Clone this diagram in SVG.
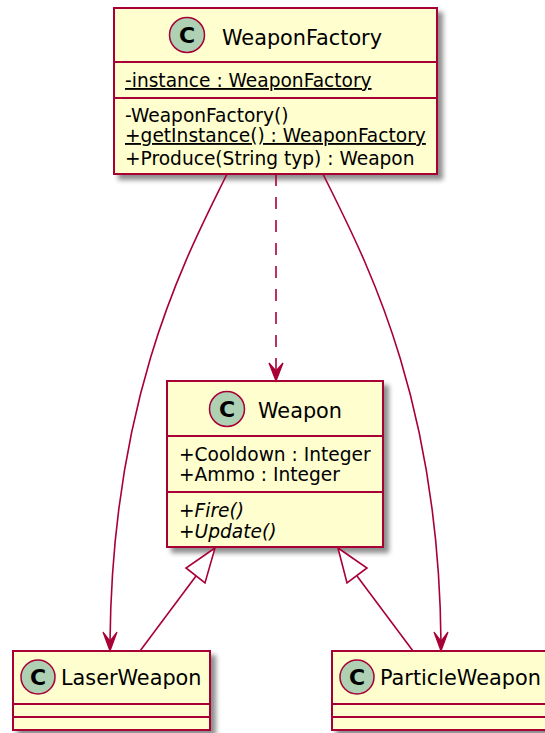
<svg xmlns="http://www.w3.org/2000/svg" width="545" height="733" viewBox="0 0 545 733">
  <defs>
    <filter id="shadow" x="-10%" y="-10%" width="130%" height="130%">
      <feGaussianBlur in="SourceAlpha" stdDeviation="2.5"/>
      <feOffset dx="5" dy="5" result="off"/>
      <feComponentTransfer><feFuncA type="linear" slope="0.45"/></feComponentTransfer>
      <feMerge><feMergeNode/><feMergeNode in="SourceGraphic"/></feMerge>
    </filter>
  </defs>
  <style>
    .box { fill: #FEFECE; stroke: #A80036; stroke-width: 2; }
    .sep { stroke: #A80036; stroke-width: 2; }
    .spot { fill: #ADD1B2; stroke: #A80036; stroke-width: 1.5; }
    .spotc { font-family: "DejaVu Sans", sans-serif; font-weight: bold; font-size: 22px; fill: #000; text-anchor: middle; }
    .name { font-family: "DejaVu Sans", sans-serif; font-size: 20.8px; fill: #000; }
    .mem { font-family: "DejaVu Sans", sans-serif; font-size: 18.6px; fill: #000; }
    .static { text-decoration: underline; }
    .abstract { font-style: italic; }
    .edge { fill: none; stroke: #A80036; stroke-width: 1.6; }
    .dashed { stroke-dasharray: 12 11; }
    .head { fill: #A80036; stroke: #A80036; stroke-width: 1.2; }
    .tri { fill: #FFFFFF; stroke: #A80036; stroke-width: 1.6; }
  </style>

  <!-- WeaponFactory singleton -->
  <g id="WeaponFactory">
    <rect class="box" x="114" y="8" width="323" height="166" filter="url(#shadow)"/>
    <circle class="spot" cx="187" cy="35" r="17.5"/>
    <text class="spotc" x="187" y="43">C</text>
    <text class="name" x="222" y="45">WeaponFactory</text>
    <line class="sep" x1="114" y1="62" x2="437" y2="62"/>
    <text class="mem static" x="125" y="87">-instance : WeaponFactory</text>
    <line class="sep" x1="114" y1="98" x2="437" y2="98"/>
    <text class="mem" x="125" y="122">-WeaponFactory()</text>
    <text class="mem static" x="125" y="142">+getInstance() : WeaponFactory</text>
    <text class="mem" x="125" y="165">+Produce(String typ) : Weapon</text>
  </g>

  <!-- Weapon base class -->
  <g id="Weapon">
    <rect class="box" x="167" y="381" width="216" height="166" filter="url(#shadow)"/>
    <circle class="spot" cx="227" cy="409" r="17.5"/>
    <text class="spotc" x="227" y="417">C</text>
    <text class="name" x="258" y="418">Weapon</text>
    <line class="sep" x1="167" y1="436" x2="383" y2="436"/>
    <text class="mem" x="179" y="461">+Cooldown : Integer</text>
    <text class="mem" x="179" y="481">+Ammo : Integer</text>
    <line class="sep" x1="167" y1="492" x2="383" y2="492"/>
    <text class="mem abstract" x="179" y="517">+Fire()</text>
    <text class="mem abstract" x="179" y="538">+Update()</text>
  </g>

  <!-- LaserWeapon -->
  <g id="LaserWeapon">
    <rect class="box" x="13" y="651" width="197" height="79" filter="url(#shadow)"/>
    <circle class="spot" cx="38" cy="677" r="17"/>
    <text class="spotc" x="38" y="685">C</text>
    <text class="name" x="61" y="685">LaserWeapon</text>
    <line class="sep" x1="13" y1="704" x2="210" y2="704"/>
    <line class="sep" x1="13" y1="717" x2="210" y2="717"/>
  </g>

  <!-- ParticleWeapon -->
  <g id="ParticleWeapon">
    <rect class="box" x="332" y="651" width="218" height="79" filter="url(#shadow)"/>
    <circle class="spot" cx="357" cy="677" r="17"/>
    <text class="spotc" x="357" y="685">C</text>
    <text class="name" x="380" y="685">ParticleWeapon</text>
    <line class="sep" x1="332" y1="704" x2="550" y2="704"/>
    <line class="sep" x1="332" y1="717" x2="550" y2="717"/>
  </g>

  <!-- Connectors -->
  <g id="connectors">
    <!-- factory creates LaserWeapon -->
    <path class="edge" d="M227,174 C190,250 112,390 110,643"/>
    <polygon class="head" points="110,651 103,632 110,641 117,632"/>
    <!-- factory creates ParticleWeapon -->
    <path class="edge" d="M323,174 C360,250 439,390 441,643"/>
    <polygon class="head" points="441,651 434,632 441,641 448,632"/>
    <!-- factory depends on Weapon -->
    <path class="edge dashed" d="M276,174 L276,374"/>
    <polygon class="head" points="276,381 269,363 276,371 283,363"/>
    <!-- LaserWeapon extends Weapon -->
    <line class="edge" x1="140" y1="651" x2="196" y2="576"/>
    <polygon class="tri" points="215,548 186,568 205,583"/>
    <!-- ParticleWeapon extends Weapon -->
    <line class="edge" x1="413" y1="651" x2="357" y2="576"/>
    <polygon class="tri" points="338,548 367,568 347,583"/>
  </g>
</svg>
